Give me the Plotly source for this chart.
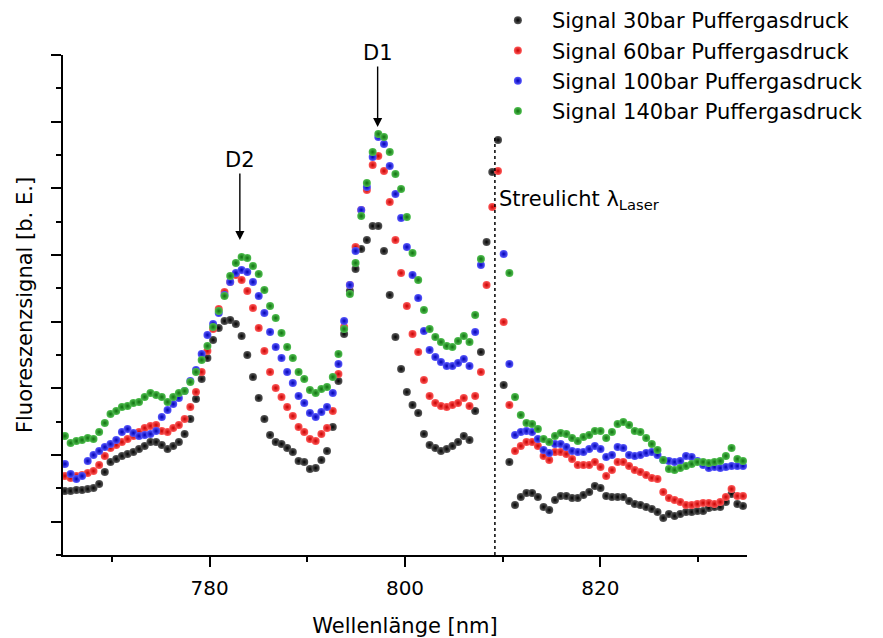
import plotly.graph_objects as go

# Wellenlänge [nm]
wavelength = [
    765.20, 765.78, 766.37, 766.95, 767.53, 768.12, 768.70, 769.28, 769.86, 770.45,
    771.03, 771.61, 772.20, 772.78, 773.36, 773.95, 774.53, 775.11, 775.70, 776.28,
    776.86, 777.45, 778.03, 778.61, 779.19, 779.78, 780.36, 780.94, 781.53, 782.11,
    782.69, 783.28, 783.86, 784.44, 785.03, 785.61, 786.19, 786.77, 787.36, 787.94,
    788.52, 789.11, 789.69, 790.27, 790.86, 791.44, 792.02, 792.61, 793.19, 793.77,
    794.36, 794.94, 795.52, 796.10, 796.69, 797.27, 797.85, 798.44, 799.02, 799.60,
    800.19, 800.77, 801.35, 801.94, 802.52, 803.10, 803.68, 804.27, 804.85, 805.43,
    806.02, 806.60, 807.18, 807.77, 808.35, 808.93, 809.52, 810.10, 810.68, 811.26,
    811.85, 812.43, 813.01, 813.60, 814.18, 814.76, 815.35, 815.93, 816.51, 817.10,
    817.68, 818.26, 818.85, 819.43, 820.01, 820.59, 821.18, 821.76, 822.34, 822.93,
    823.51, 824.09, 824.68, 825.26, 825.84, 826.43, 827.01, 827.59, 828.17, 828.76,
    829.34, 829.92, 830.51, 831.09, 831.67, 832.26, 832.84, 833.42, 834.01, 834.59,
]

# Fluoreszenzsignal [b. E.]
signal_30bar = [
    960, 960, 975, 975, 990, 1005, 1065, 1245, 1395, 1440,
    1485, 1515, 1545, 1590, 1635, 1695, 1695, 1650, 1590, 1635,
    1695, 1815, 2040, 2340, 2640, 2955, 3225, 3405, 3510, 3525,
    3465, 3285, 3000, 2670, 2355, 2040, 1800, 1695, 1665, 1605,
    1545, 1410, 1395, 1290, 1305, 1425, 1560, 1920, 2610, 3315,
    3960, 4290, 4590, 4725, 4935, 4935, 4560, 3900, 3270, 2790,
    2445, 2250, 2130, 1815, 1650, 1605, 1560, 1590, 1635, 1695,
    1785, 1725, 2160, 3045, 4695, 5745, 6225, 2550, 1395, 750,
    870, 930, 930, 870, 720, 675, 825, 885, 885, 855,
    855, 900, 945, 1035, 1005, 885, 870, 870, 870, 810,
    765, 750, 720, 690, 645, 555, 615, 585, 615, 645,
    645, 660, 660, 705, 720, 720, 795, 915, 765, 735,
]

signal_60bar = [
    1185, 1155, 1185, 1200, 1230, 1260, 1350, 1485, 1605, 1650,
    1695, 1740, 1785, 1845, 1905, 1935, 1950, 1860, 1845, 1905,
    1950, 2040, 2220, 2445, 2745, 3060, 3390, 3690, 3945, 4095,
    4200, 4125, 3960, 3705, 3405, 3060, 2745, 2505, 2370, 2220,
    2085, 1920, 1845, 1740, 1710, 1815, 1905, 2160, 2715, 3420,
    4050, 4620, 5175, 5475, 5850, 5985, 5760, 5295, 4725, 4230,
    3735, 3315, 3045, 2625, 2385, 2280, 2235, 2220, 2250, 2280,
    2355, 2235, 2385, 2745, 4050, 5220, 5760, 3495, 2250, 1560,
    1635, 1695, 1695, 1635, 1485, 1425, 1545, 1545, 1515, 1440,
    1350, 1350, 1350, 1395, 1320, 1185, 1275, 1395, 1395, 1335,
    1275, 1245, 1200, 1155, 1140, 945, 855, 825, 795, 750,
    750, 765, 780, 780, 765, 795, 870, 990, 885, 885,
]

signal_100bar = [
    1365, 1215, 1140, 1185, 1410, 1500, 1560, 1620, 1665, 1725,
    1845, 1890, 1830, 1785, 1800, 1815, 1860, 2070, 2175, 2265,
    2355, 2460, 2610, 2775, 3015, 3300, 3465, 3630, 3900, 4095,
    4230, 4275, 4245, 4095, 3885, 3630, 3345, 3120, 2955, 2745,
    2580, 2385, 2280, 2130, 2070, 2145, 2220, 2430, 2865, 3510,
    4050, 4560, 5175, 5520, 5970, 6270, 6165, 5835, 5415, 5055,
    4620, 4200, 3855, 3360, 3075, 2970, 2895, 2835, 2835, 2880,
    2940, 2835, 3345, 4350, None, None, None, 4515, 2865, 1800,
    1845, 1860, 1845, 1740, 1575, 1530, 1665, 1665, 1620, 1560,
    1545, 1545, 1590, 1635, 1590, 1470, 1500, 1620, 1605, 1500,
    1485, 1500, 1530, 1545, 1500, 1425, 1410, 1395, 1410, 1485,
    1470, 1410, 1350, 1305, 1320, 1305, 1320, 1335, 1335, 1335,
]

signal_140bar = [
    1785, 1680, 1710, 1725, 1755, 1740, 1845, 1980, 2115, 2160,
    2220, 2235, 2280, 2295, 2370, 2430, 2400, 2370, 2295, 2370,
    2430, 2460, 2595, 2745, 2925, 3135, 3420, 3660, 3885, 4185,
    4380, 4470, 4455, 4335, 4215, 3975, 3735, 3555, 3330, 3120,
    2955, 2745, 2640, 2475, 2430, 2490, 2520, 2670, 3015, 3390,
    3915, 4380, 5085, 5580, 6045, 6315, 6270, 6045, 5715, 5490,
    5070, 4530, 4125, 3675, 3390, 3270, 3195, 3135, 3120, 3210,
    3285, 3195, 3600, 4440, None, None, None, None, 4230, 2370,
    2100, 1980, 1965, 1890, 1740, 1695, 1785, 1830, 1815, 1755,
    1710, 1770, 1800, 1860, 1860, 1755, 1845, 1965, 1995, 1950,
    1860, 1845, 1755, 1665, 1575, 1425, 1290, 1275, 1305, 1335,
    1365, 1395, 1395, 1380, 1395, 1410, 1485, 1605, 1440, 1410,
]

series_names = [
    "Signal 30bar Puffergasdruck",
    "Signal 60bar Puffergasdruck",
    "Signal 100bar Puffergasdruck",
    "Signal 140bar Puffergasdruck",
]
series_values = [signal_30bar, signal_60bar, signal_100bar, signal_140bar]
center_colors = ["#5a5a5a", "#ff5a5a", "#5a5aff", "#50c050"]
edge_colors = ["#000000", "#c80000", "#0000b4", "#107010"]

LASER_NM = 809.2
LASER_LINE_TOP = 6270
D1_NM, D1_TIP = 797.2, 6420
D2_NM, D2_TIP = 783.1, 4725

FONT = "DejaVu Sans"

fig = go.Figure()
for name, vals, c0, c1 in zip(series_names, series_values, center_colors, edge_colors):
    fig.add_trace(go.Scatter(
        x=wavelength, y=vals, mode="markers", name=name,
        marker=dict(size=8, color=c0, gradient=dict(type="radial", color=c1),
                    line=dict(width=0)),
        cliponaxis=True,
    ))

fig.add_shape(type="line", xref="x", yref="y", x0=LASER_NM, x1=LASER_NM,
              y0=0, y1=LASER_LINE_TOP, line=dict(color="black", width=1.5, dash="dot"))

fig.add_annotation(x=D1_NM, y=D1_TIP, xref="x", yref="y", text="D1",
                   showarrow=True, arrowhead=2, arrowsize=1.3, arrowwidth=1.4,
                   arrowcolor="black", ax=0, ay=-74,
                   font=dict(family=FONT, size=21, color="black"))
fig.add_annotation(x=D2_NM, y=D2_TIP, xref="x", yref="y", text="D2",
                   showarrow=True, arrowhead=2, arrowsize=1.3, arrowwidth=1.4,
                   arrowcolor="black", ax=0, ay=-80,
                   font=dict(family=FONT, size=21, color="black"))
fig.add_annotation(x=LASER_NM + 0.2, y=5330, xref="x", yref="y",
                   text="Streulicht λ<sub>Laser</sub>", showarrow=False,
                   xanchor="left", yanchor="middle",
                   font=dict(family=FONT, size=21, color="black"))

fig.update_layout(
    width=883, height=638,
    margin=dict(l=63, r=136, t=55, b=83, autoexpand=False),
    paper_bgcolor="white", plot_bgcolor="white",
    font=dict(family=FONT, size=20, color="black"),
    showlegend=True,
    legend=dict(xref="container", yref="container", x=0.548, y=1.0,
                xanchor="left", yanchor="top",
                bgcolor="rgba(255,255,255,0)", font=dict(family=FONT, size=21),
                itemwidth=58, tracegroupgap=0),
    xaxis=dict(range=[765, 835], showgrid=False, zeroline=False,
               showline=True, linecolor="black", linewidth=1.5,
               ticks="outside", ticklen=10, tickwidth=1.5, tickcolor="black",
               tick0=780, dtick=20,
               minor=dict(ticks="outside", ticklen=5, tickwidth=1.5, tickcolor="black",
                          tick0=770, dtick=10),
               tickfont=dict(family=FONT, size=20),
               ticklabelstandoff=4,
               title=dict(text="Wellenlänge [nm]", font=dict(family=FONT, size=21), standoff=22)),
    yaxis=dict(range=[0, 7500], showgrid=False, zeroline=False,
               showline=True, linecolor="black", linewidth=1.5,
               ticks="outside", ticklen=10, tickwidth=1.5, tickcolor="black",
               tick0=500, dtick=1000, showticklabels=False,
               minor=dict(ticks="outside", ticklen=5, tickwidth=1.5, tickcolor="black",
                          tick0=0, dtick=1000),
               title=dict(text="Fluoreszenzsignal [b. E.]", font=dict(family=FONT, size=21), standoff=13)),
)

fig.write_html("out.html")
